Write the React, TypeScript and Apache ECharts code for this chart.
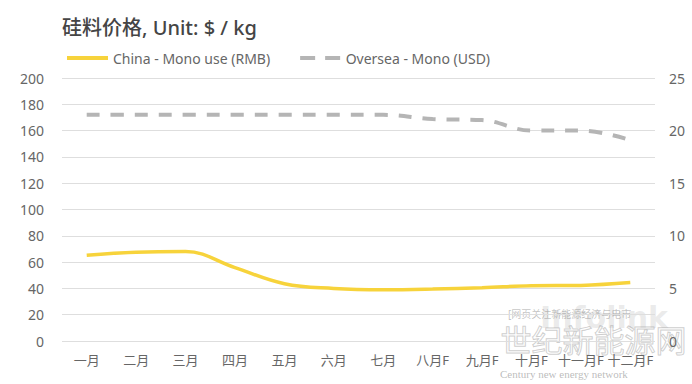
import React, { useEffect, useRef } from "react";
import * as echarts from "echarts";

const months = ["一月", "二月", "三月", "四月", "五月", "六月", "七月", "八月F", "九月F", "十月F", "十一月F", "十二月F"];
const chinaMono = [65.2, 67.5, 68, 55.8, 43.6, 40, 39, 39.5, 40.5, 42, 42.3, 44.4];
const overseaMono = [21.5, 21.5, 21.5, 21.5, 21.5, 21.5, 21.5, 21.1, 21.0, 20.0, 20.0, 19.1];
const leftTicks = { min: 0, max: 200, interval: 20 };
const rightTicks = { min: 0, max: 25, interval: 5 };

const FONT = "'Noto Sans', 'Noto Sans CJK SC', sans-serif";

export default function App() {
  const ref = useRef<HTMLDivElement>(null);
  useEffect(() => {
    if (!ref.current) return;
    const chart = echarts.init(ref.current, null, { renderer: "svg" });
    chart.setOption({
      animation: false,
      backgroundColor: "#ffffff",
      textStyle: { fontFamily: FONT },
      title: {
        text: "硅料价格, Unit: $ / kg",
        left: 57,
        top: 12,
        textStyle: { fontSize: 20, fontWeight: 500, color: "#454545", fontFamily: FONT },
      },
      legend: {
        left: 62,
        top: 46,
        itemWidth: 41,
        itemHeight: 4,
        itemGap: 30,
        textStyle: { fontSize: 14, color: "#666666", fontFamily: FONT, padding: [0, 0, 0, 0] },
        data: [
          { name: "China - Mono use (RMB)", icon: "path://M0,0H41V4H0Z", itemStyle: { color: "#F7D33B" } },
          { name: "Oversea - Mono (USD)", icon: "path://M0,0H15V4H0Z M25,0H40V4H25Z", itemStyle: { color: "#B5B5B5" } },
        ],
      },
      grid: { left: 62, right: 37, top: 78, bottom: 43, containLabel: false },
      xAxis: {
        type: "category",
        data: months,
        boundaryGap: true,
        axisLine: { show: false },
        axisTick: { show: false },
        axisLabel: { color: "#666666", fontSize: 13, margin: 12, interval: 0, fontFamily: FONT },
      },
      yAxis: [
        {
          type: "value",
          min: leftTicks.min,
          max: leftTicks.max,
          interval: leftTicks.interval,
          axisLine: { show: false },
          axisTick: { show: false },
          axisLabel: { color: "#666666", fontSize: 14, margin: 18, fontFamily: FONT },
          splitLine: { lineStyle: { color: "#dedede", width: 1 } },
        },
        {
          type: "value",
          min: rightTicks.min,
          max: rightTicks.max,
          interval: rightTicks.interval,
          axisLine: { show: false },
          axisTick: { show: false },
          axisLabel: { color: "#666666", fontSize: 14, margin: 14, fontFamily: FONT },
          splitLine: { show: false },
        },
      ],
      series: [
        {
          name: "China - Mono use (RMB)",
          type: "line",
          yAxisIndex: 0,
          data: chinaMono,
          smooth: 0.4,
          symbol: "none",
          showSymbol: false,
          lineStyle: { color: "#F7D33B", width: 3.5 },
          itemStyle: { color: "#F7D33B" },
        },
        {
          name: "Oversea - Mono (USD)",
          type: "line",
          yAxisIndex: 1,
          data: overseaMono,
          smooth: 0.4,
          symbol: "none",
          showSymbol: false,
          lineStyle: { color: "#B5B5B5", width: 4, type: [13, 11] },
          itemStyle: { color: "#B5B5B5" },
        },
      ],
      graphic: [
        {
          type: "text",
          left: 540,
          top: 302,
          style: { text: "Infolink", fontSize: 30, fontWeight: "bold", fill: "rgba(150,150,150,0.2)", fontFamily: "DejaVu Sans" },
        },
        {
          type: "text",
          left: 508,
          top: 309,
          style: { text: "[网页关注新能源经济与电市", fontSize: 10, fill: "rgba(120,120,120,0.45)", fontFamily: FONT },
        },
        {
          type: "text",
          left: 500,
          top: 322,
          style: { text: "世纪新能源网", fontSize: 31, fill: "rgba(255,255,255,0.2)", stroke: "rgba(150,150,150,0.5)", lineWidth: 1, fontFamily: "'Noto Sans CJK SC'" },
        },
        {
          type: "text",
          left: 500,
          top: 368,
          style: { text: "Century new energy network", fontSize: 11, fill: "rgba(130,130,130,0.55)", fontFamily: "'Liberation Serif', serif" },
        },
      ],
    });
    return () => chart.dispose();
  }, []);
  return <div ref={ref} style={{ width: 692, height: 384, position: "absolute", left: 0, top: 0 }} />;
}
